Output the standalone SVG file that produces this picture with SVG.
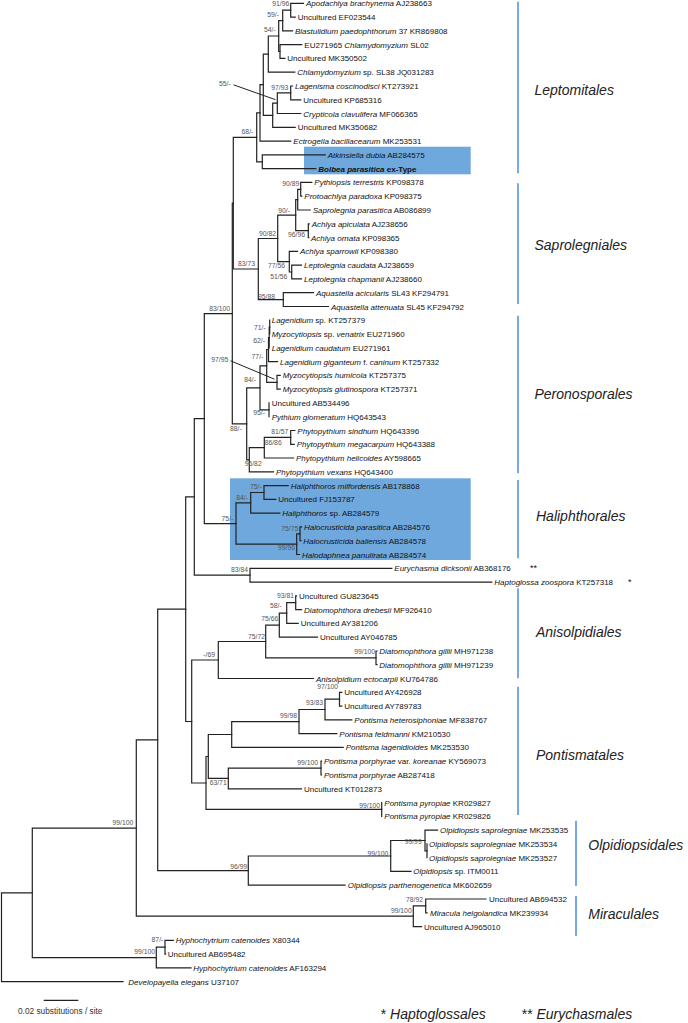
<svg xmlns="http://www.w3.org/2000/svg" width="688" height="1023" viewBox="0 0 688 1023">
<style>
.br{fill:none;stroke:#222;stroke-width:1.2;stroke-linecap:square}
.ld{fill:none;stroke:#222;stroke-width:1}
.t{font-family:"Liberation Sans",Arial,sans-serif;font-size:8px;fill:#111}
.i{font-style:italic}
.s{font-family:"Liberation Sans",Arial,sans-serif;font-size:6.8px;fill:#555;text-anchor:end}
.ord{font-family:"Liberation Sans",Arial,sans-serif;font-size:14px;font-style:italic;fill:#222}
.fn{font-family:"Liberation Sans",Arial,sans-serif;font-size:14px;fill:#222}
.bar{stroke:#4a8edc;stroke-width:1.5}
.box{fill:#6fa8dc}
</style>
<g id="highlights">
<rect class="box" x="304" y="146.7" width="166.7" height="27.6"/>
<rect class="box" x="230" y="478.3" width="240.7" height="81.7"/>
</g>
<g id="connectors" class="br">
<path d="M290.7,3.3V17.1M290.7,3.3H303.5M290.7,17.1H295.2"/>
<path d="M282.7,10.2V30.9M282.7,10.2H290.7M282.7,30.9H292.5"/>
<path d="M280,44.6V58.4M280,44.6H301.8M280,58.4H284.8"/>
<path d="M278.7,20.55V51.5M278.7,20.55H282.7M278.7,51.5H280"/>
<path d="M268.3,36V72.2M268.3,36H278.7M268.3,72.2H294.8"/>
<path d="M290.7,86V99.8M290.7,86H292.5M290.7,99.8H300.8"/>
<path d="M277.3,92.9V113.5M277.3,92.9H290.7M277.3,113.5H300.8"/>
<path d="M272.7,103.2V127.3M272.7,103.2H277.3M272.7,127.3H295.2"/>
<path d="M263.3,54.1V115.3M263.3,54.1H268.3M263.3,115.3H272.7"/>
<path d="M260,84.7V141.1M260,84.7H263.3M260,141.1H290.8"/>
<path d="M262.3,154.9V168.7M262.3,154.9H325.2M262.3,168.7H315.8"/>
<path d="M256.7,112.9V161.8M256.7,112.9H260M256.7,161.8H262.3"/>
<path d="M300.7,182.4V196.2M300.7,182.4H311.8M300.7,196.2H301.8"/>
<path d="M297.7,189.3V210M297.7,189.3H300.7M297.7,210H310.2"/>
<path d="M308.3,223.8V237.6M308.3,223.8H309.2M308.3,237.6H308.8"/>
<path d="M295.7,199.7V230.7M295.7,199.7H297.7M295.7,230.7H308.3"/>
<path d="M291.7,265.1V278.9M291.7,265.1H301.5M291.7,278.9H301.5"/>
<path d="M289.3,251.3V272M289.3,251.3H297.5M289.3,272H291.7"/>
<path d="M277.7,215.2V261.7M277.7,215.2H295.7M277.7,261.7H289.3"/>
<path d="M283.3,292.7V306.5M283.3,292.7H313.5M283.3,306.5H328.5"/>
<path d="M258.3,238.5V299.6M258.3,238.5H277.7M258.3,299.6H283.3"/>
<path d="M269.7,320.2V334"/>
<path d="M269.2,327.1V347.8M269.2,327.1H269.7"/>
<path d="M268.5,337.5V361.6M268.5,337.5H269.2M268.5,361.6H277.5"/>
<path d="M277,375.4V389.1M277,375.4H280.2M277,389.1H280.2"/>
<path d="M266.7,349.5V382.3M266.7,349.5H268.5M266.7,382.3H277"/>
<path d="M269,402.9V416.7"/>
<path d="M260,365.9V409.8M260,365.9H266.7M260,409.8H269"/>
<path d="M290.7,430.5V444.3M290.7,430.5H294.8M290.7,444.3H294.2"/>
<path d="M264.3,437.4V458M264.3,437.4H290.7M264.3,458H293.5"/>
<path d="M249.3,447.7V471.8M249.3,447.7H264.3M249.3,471.8H273.5"/>
<path d="M246.7,387.9V459.8M246.7,387.9H260M246.7,459.8H249.3"/>
<path d="M233.3,137.4V269M233.3,137.4H256.7M233.3,269H258.3"/>
<path d="M232.3,203.2V423.9M232.3,203.2H233.3M232.3,423.9H246.7"/>
<path d="M264,485.6V499.4M264,485.6H288.2M264,499.4H275.8"/>
<path d="M250.7,492.5V513.2M250.7,492.5H264M250.7,513.2H279.8"/>
<path d="M300,526.9V540.7M300,526.9H301.5M300,540.7H301"/>
<path d="M296.7,533.8V554.5M296.7,533.8H300M296.7,554.5H299.5"/>
<path d="M236,502.9V544.2M236,502.9H250.7M236,544.2H296.7"/>
<path d="M204.3,313.6V523.6M204.3,313.6H232.3M204.3,523.6H236"/>
<path d="M250,568.3V582.1M250,568.3H391.8M250,582.1H491.8"/>
<path d="M194.3,418.6V575.2M194.3,418.6H204.3M194.3,575.2H250"/>
<path d="M295.7,595.8V609.6M295.7,595.8H296.5M295.7,609.6H301.5"/>
<path d="M286.7,602.7V623.4M286.7,602.7H295.7M286.7,623.4H298.2"/>
<path d="M279.3,613.1V637.2M279.3,613.1H286.7M279.3,637.2H317.5"/>
<path d="M376,651V664.7M376,651H377M376,664.7H377"/>
<path d="M265.7,625.2V657.9M265.7,625.2H279.3M265.7,657.9H376"/>
<path d="M218.3,641.5V678.5M218.3,641.5H265.7M218.3,678.5H313.5"/>
<path d="M339.5,692.3V706.1M339.5,692.3H341.8M339.5,706.1H341.8"/>
<path d="M325,699.2V719.9M325,699.2H339.5M325,719.9H351.8"/>
<path d="M299,709.5V733.6M299,709.5H325M299,733.6H336.8"/>
<path d="M231.7,721.6V747.4M231.7,721.6H299M231.7,747.4H343.2"/>
<path d="M321,761.2V775M321,761.2H321.5M321,775H321.5"/>
<path d="M228.3,768.1V788.8M228.3,768.1H321M228.3,788.8H301.5"/>
<path d="M208.3,734.5V778.4M208.3,734.5H231.7M208.3,778.4H228.3"/>
<path d="M381.7,802.5V816.3"/>
<path d="M206,756.5V809.4M206,756.5H208.3M206,809.4H381.7"/>
<path d="M191.7,660V783M191.7,660H218.3M191.7,783H206"/>
<path d="M185.7,496.9V721.5M185.7,496.9H194.3M185.7,721.5H191.7"/>
<path d="M427,843.9V857.7"/>
<path d="M425,830.1V850.8M425,830.1H437.5M425,850.8H427"/>
<path d="M390.7,840.5V871.4M390.7,840.5H425M390.7,871.4H411"/>
<path d="M248.3,856V885.2M248.3,856H390.7M248.3,885.2H345"/>
<path d="M157.7,609.2V870.6M157.7,609.2H185.7M157.7,870.6H248.3"/>
<path d="M425.7,899V912.8M425.7,899H486M425.7,912.8H427"/>
<path d="M413.3,905.9V926.6M413.3,905.9H425.7M413.3,926.6H421.5"/>
<path d="M136.3,739.9V916.2M136.3,739.9H157.7M136.3,916.2H413.3"/>
<path d="M165,940.3V954.1M165,940.3H173.3M165,954.1H165.5"/>
<path d="M156.3,947.2V967.9M156.3,947.2H165M156.3,967.9H191"/>
<path d="M32.3,828.1V957.6M32.3,828.1H136.3M32.3,957.6H156.3"/>
<path d="M1.5,892.8V981.7M1.5,892.8H32.3M1.5,981.7H123"/>
<path class="ld" d="M234,85L275,99.5M231,361L274,379"/>
<path d="M44.3,1000.3H77.7"/>
</g>
<g id="leaves" class="t">
<g id="leaf-1"><text x="306" y="6.3"><tspan class="i">Apodachlya brachynema</tspan> AJ238663</text></g>
<g id="leaf-2"><text x="297.7" y="20.1">Uncultured EF023544</text></g>
<g id="leaf-3"><text x="295" y="33.9"><tspan class="i">Blastulidium paedophthorum</tspan> 37 KR869808</text></g>
<g id="leaf-4"><text x="304.3" y="47.6">EU271965 <tspan class="i">Chlamydomyzium</tspan> SL02</text></g>
<g id="leaf-5"><text x="287.3" y="61.4">Uncultured MK350502</text></g>
<g id="leaf-6"><text x="297.3" y="75.2"><tspan class="i">Chlamydomyzium</tspan> sp. SL38 JQ031283</text></g>
<g id="leaf-7"><text x="295" y="89"><tspan class="i">Lagenisma coscinodisci</tspan> KT273921</text></g>
<g id="leaf-8"><text x="303.3" y="102.8">Uncultured KP685316</text></g>
<g id="leaf-9"><text x="303.3" y="116.5"><tspan class="i">Crypticola clavulifera</tspan> MF066365</text></g>
<g id="leaf-10"><text x="297.7" y="130.3">Uncultured MK350682</text></g>
<g id="leaf-11"><text x="293.3" y="144.1"><tspan class="i">Ectrogella bacillacearum</tspan> MK253531</text></g>
<g id="leaf-12"><text x="327.7" y="157.9"><tspan class="i">Atkinsiella dubia</tspan> AB284575</text></g>
<g id="leaf-13"><text x="318.3" y="171.7" font-weight="bold"><tspan class="i">Bolbea parasitica</tspan> ex-Type</text></g>
<g id="leaf-14"><text x="314.3" y="185.4"><tspan class="i">Pythiopsis terrestris</tspan> KP098378</text></g>
<g id="leaf-15"><text x="304.3" y="199.2"><tspan class="i">Protoachlya paradoxa</tspan> KP098375</text></g>
<g id="leaf-16"><text x="312.7" y="213"><tspan class="i">Saprolegnia parasitica</tspan> AB086899</text></g>
<g id="leaf-17"><text x="311.7" y="226.8"><tspan class="i">Achlya apiculata</tspan> AJ238656</text></g>
<g id="leaf-18"><text x="311" y="240.6"><tspan class="i">Achlya ornata</tspan> KP098365</text></g>
<g id="leaf-19"><text x="300" y="254.3"><tspan class="i">Achlya sparrowii</tspan> KP098380</text></g>
<g id="leaf-20"><text x="304" y="268.1"><tspan class="i">Leptolegnia caudata</tspan> AJ238659</text></g>
<g id="leaf-21"><text x="304" y="281.9"><tspan class="i">Leptolegnia chapmanii</tspan> AJ238660</text></g>
<g id="leaf-22"><text x="316" y="295.7"><tspan class="i">Aquastella acicularis</tspan> SL43 KF294791</text></g>
<g id="leaf-23"><text x="331" y="309.5"><tspan class="i">Aquastella attenuata</tspan> SL45 KF294792</text></g>
<g id="leaf-24"><text x="271.7" y="323.2"><tspan class="i">Lagenidium</tspan> sp. KT257379</text></g>
<g id="leaf-25"><text x="271.7" y="337"><tspan class="i">Myzocytiopsis</tspan> sp. <tspan class="i">venatrix</tspan> EU271960</text></g>
<g id="leaf-26"><text x="271.7" y="350.8"><tspan class="i">Lagenidium caudatum</tspan> EU271961</text></g>
<g id="leaf-27"><text x="280" y="364.6"><tspan class="i">Lagenidium giganteum</tspan> f. <tspan class="i">caninum</tspan> KT257332</text></g>
<g id="leaf-28"><text x="282.7" y="378.4"><tspan class="i">Myzocytiopsis humicola</tspan> KT257375</text></g>
<g id="leaf-29"><text x="282.7" y="392.1"><tspan class="i">Myzocytiopsis glutinospora</tspan> KT257371</text></g>
<g id="leaf-30"><text x="271.7" y="405.9">Uncultured AB534496</text></g>
<g id="leaf-31"><text x="271.7" y="419.7"><tspan class="i">Pythium glomeratum</tspan> HQ643543</text></g>
<g id="leaf-32"><text x="297.3" y="433.5"><tspan class="i">Phytopythium sindhum</tspan> HQ643396</text></g>
<g id="leaf-33"><text x="296.7" y="447.3"><tspan class="i">Phytopythium megacarpum</tspan> HQ643388</text></g>
<g id="leaf-34"><text x="296" y="461"><tspan class="i">Phytopythium helicoides</tspan> AY598665</text></g>
<g id="leaf-35"><text x="276" y="474.8"><tspan class="i">Phytopythium vexans</tspan> HQ643400</text></g>
<g id="leaf-36"><text x="290.7" y="488.6"><tspan class="i">Haliphthoros milfordensis</tspan> AB178868</text></g>
<g id="leaf-37"><text x="278.3" y="502.4">Uncultured FJ153787</text></g>
<g id="leaf-38"><text x="282.3" y="516.2"><tspan class="i">Haliphthoros</tspan> sp. AB284579</text></g>
<g id="leaf-39"><text x="304" y="529.9"><tspan class="i">Halocrusticida parasitica</tspan> AB284576</text></g>
<g id="leaf-40"><text x="303.3" y="543.7"><tspan class="i">Halocrusticida baliensis</tspan> AB284578</text></g>
<g id="leaf-41"><text x="302" y="557.5"><tspan class="i">Halodaphnea panulirata</tspan> AB284574</text></g>
<g id="leaf-42"><text x="394.3" y="571.3"><tspan class="i">Eurychasma dicksonii</tspan> AB368176</text><text x="530" y="571" font-size="9">**</text></g>
<g id="leaf-43"><text x="494.3" y="585.1"><tspan class="i">Haptoglossa zoospora</tspan> KT257318</text><text x="628" y="585" font-size="9">*</text></g>
<g id="leaf-44"><text x="299" y="598.8">Uncultured GU823645</text></g>
<g id="leaf-45"><text x="304" y="612.6"><tspan class="i">Diatomophthora drebesii</tspan> MF926410</text></g>
<g id="leaf-46"><text x="300.7" y="626.4">Uncultured AY381206</text></g>
<g id="leaf-47"><text x="320" y="640.2">Uncultured AY046785</text></g>
<g id="leaf-48"><text x="379.3" y="654"><tspan class="i">Diatomophthora gillii</tspan> MH971238</text></g>
<g id="leaf-49"><text x="379.3" y="667.7"><tspan class="i">Diatomophthora gillii</tspan> MH971239</text></g>
<g id="leaf-50"><text x="316" y="681.5"><tspan class="i">Anisolpidium ectocarpii</tspan> KU764786</text></g>
<g id="leaf-51"><text x="344.3" y="695.3">Uncultured AY426928</text></g>
<g id="leaf-52"><text x="344.3" y="709.1">Uncultured AY789783</text></g>
<g id="leaf-53"><text x="354.3" y="722.9"><tspan class="i">Pontisma heterosiphoniae</tspan> MF838767</text></g>
<g id="leaf-54"><text x="339.3" y="736.6"><tspan class="i">Pontisma feldmanni</tspan> KM210530</text></g>
<g id="leaf-55"><text x="345.7" y="750.4"><tspan class="i">Pontisma lagenidioides</tspan> MK253530</text></g>
<g id="leaf-56"><text x="324" y="764.2"><tspan class="i">Pontisma porphyrae</tspan> var. <tspan class="i">koreanae</tspan> KY569073</text></g>
<g id="leaf-57"><text x="324" y="778"><tspan class="i">Pontisma porphyrae</tspan> AB287418</text></g>
<g id="leaf-58"><text x="304" y="791.8">Uncultured KT012873</text></g>
<g id="leaf-59"><text x="384.3" y="805.5"><tspan class="i">Pontisma pyropiae</tspan> KR029827</text></g>
<g id="leaf-60"><text x="384.3" y="819.3"><tspan class="i">Pontisma pyropiae</tspan> KR029826</text></g>
<g id="leaf-61"><text x="440" y="833.1"><tspan class="i">Olpidiopsis saprolegniae</tspan> MK253535</text></g>
<g id="leaf-62"><text x="429" y="846.9"><tspan class="i">Olpidiopsis saprolegniae</tspan> MK253534</text></g>
<g id="leaf-63"><text x="429" y="860.7"><tspan class="i">Olpidiopsis saprolegniae</tspan> MK253527</text></g>
<g id="leaf-64"><text x="413.3" y="874.4"><tspan class="i">Olpidiopsis</tspan> sp. ITM0011</text></g>
<g id="leaf-65"><text x="347.7" y="888.2"><tspan class="i">Olpidiopsis parthenogenetica</tspan> MK602659</text></g>
<g id="leaf-66"><text x="489" y="902">Uncultured AB694532</text></g>
<g id="leaf-67"><text x="430" y="915.8"><tspan class="i">Miracula helgolandica</tspan> MK239934</text></g>
<g id="leaf-68"><text x="424" y="929.6">Uncultured AJ965010</text></g>
<g id="leaf-69"><text x="175.7" y="943.3"><tspan class="i">Hyphochytrium catenoides</tspan> X80344</text></g>
<g id="leaf-70"><text x="167.7" y="957.1">Uncultured AB695482</text></g>
<g id="leaf-71"><text x="193.3" y="970.9"><tspan class="i">Hyphochytrium catenoides</tspan> AF163294</text></g>
<g id="leaf-72"><text x="128.3" y="984.7"><tspan class="i">Developayella elegans</tspan> U37107</text></g>
</g>
<g id="support" class="s">
<text x="289.3" y="6.4">91/96</text>
<text x="279" y="17.4">59/-</text>
<text x="275.7" y="31.7">54/-</text>
<text x="230.7" y="85.7">55/-</text>
<text x="288.3" y="89.7">97/93</text>
<text x="253.3" y="134.1">68/-</text>
<text x="299.3" y="186.1">90/89</text>
<text x="290" y="213.1">90/-</text>
<text x="276" y="235.7">90/82</text>
<text x="305" y="236.7">96/96</text>
<text x="255" y="265.7">83/73</text>
<text x="285" y="268.1">77/56</text>
<text x="287.3" y="279.1">51/56</text>
<text x="275" y="299.1">95/88</text>
<text x="230" y="310.7">83/100</text>
<text x="265.7" y="330.1">71/-</text>
<text x="265" y="343.4">62/-</text>
<text x="263.3" y="359.4">77/-</text>
<text x="228.3" y="362.4">97/95</text>
<text x="256" y="382.4">84/-</text>
<text x="265" y="415.1">95/-</text>
<text x="241.7" y="430.7">88/-</text>
<text x="288.3" y="434.1">81/57</text>
<text x="281.7" y="444.7">86/86</text>
<text x="261.7" y="466.4">96/82</text>
<text x="261.7" y="489.4">75/-</text>
<text x="248" y="500.1">84/-</text>
<text x="233.3" y="520.7">75/-</text>
<text x="298.3" y="530.7">75/75</text>
<text x="295" y="550.1">99/96</text>
<text x="248" y="571.9">83/84</text>
<text x="294" y="598.4">93/81</text>
<text x="281.7" y="608.4">58/-</text>
<text x="278.3" y="621.4">75/66</text>
<text x="265" y="639.1">75/72</text>
<text x="375" y="654.4">99/100</text>
<text x="215" y="657.4">-/69</text>
<text x="338" y="689.4">97/100</text>
<text x="323" y="705.4">93/83</text>
<text x="297" y="718.1">99/98</text>
<text x="318" y="764.7">99/100</text>
<text x="226.7" y="785.1">63/71</text>
<text x="380" y="807.7">99/100</text>
<text x="421.7" y="844.1">99/99</text>
<text x="388.3" y="856.4">99/100</text>
<text x="247.3" y="869.1">96/99</text>
<text x="133.3" y="825.1">99/100</text>
<text x="423" y="902.4">78/92</text>
<text x="411.7" y="913.4">99/100</text>
<text x="163.3" y="941.7">87/-</text>
<text x="155" y="954.4">99/100</text>
</g>
<g id="orders">
<g id="order-bars" class="bar">
<line x1="518" y1="1.7" x2="518" y2="173.3"/>
<line x1="518" y1="183.3" x2="518" y2="304"/>
<line x1="518" y1="315.7" x2="518" y2="473.3"/>
<line x1="518" y1="480" x2="518" y2="558.3"/>
<line x1="518" y1="588.3" x2="518" y2="678.3"/>
<line x1="518" y1="686.7" x2="518" y2="815"/>
<line x1="576" y1="820.7" x2="576" y2="886"/>
<line x1="576" y1="896" x2="576" y2="936"/>
</g>
<g id="order-Leptomitales"><text class="ord" x="534.5" y="95">Leptomitales</text></g>
<g id="order-Saprolegniales"><text class="ord" x="534.5" y="250">Saprolegniales</text></g>
<g id="order-Peronosporales"><text class="ord" x="534.5" y="398.5">Peronosporales</text></g>
<g id="order-Haliphthorales"><text class="ord" x="536" y="521">Haliphthorales</text></g>
<g id="order-Anisolpidiales"><text class="ord" x="536" y="637">Anisolpidiales</text></g>
<g id="order-Pontismatales"><text class="ord" x="536" y="760">Pontismatales</text></g>
<g id="order-Olpidiopsidales"><text class="ord" x="588.3" y="850">Olpidiopsidales</text></g>
<g id="order-Miraculales"><text class="ord" x="588.3" y="918.5">Miraculales</text></g>
</g>
<g id="scale"><text x="18" y="1013.5" font-family="Liberation Sans, Arial, sans-serif" font-size="8.3" fill="#333">0.02 substitutions / site</text></g>
<g id="footnotes">
<text class="fn" x="380.7" y="1019">* <tspan class="i">Haptoglossales</tspan></text>
<text class="fn" x="521.7" y="1019">** <tspan class="i">Eurychasmales</tspan></text>
</g>
</svg>
